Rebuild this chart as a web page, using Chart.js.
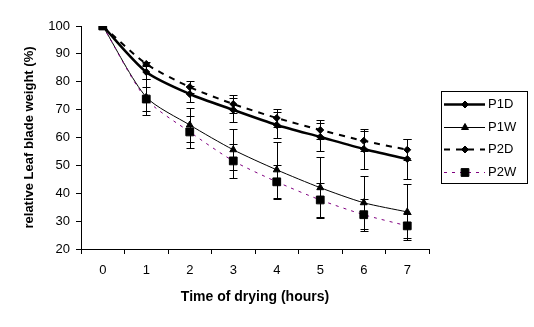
<!DOCTYPE html>
<html>
<head>
<meta charset="utf-8">
<script src="https://cdn.jsdelivr.net/npm/chart.js@4"></script>
<style>
  html, body { margin: 0; padding: 0; background: #fff; }
  #wrap { width: 534px; height: 327px; position: relative; }
</style>
</head>
<body>
<div id="wrap"><canvas id="dryingChart" width="534" height="327"></canvas></div>
<script>
// hours of drying
const hours = ['0', '1', '2', '3', '4', '5', '6', '7'];

// relative leaf blade weight (%)
const p1d = [100, 83.5, 75.6, 69.9, 64.5, 60.2, 55.9, 52.3];
const p1w = [100, 74.5, 64.5, 55.6, 48.4, 42.0, 36.6, 33.3];
const p2d = [100, 86.4, 78.1, 72.0, 67.0, 62.7, 58.8, 55.6];
const p2w = [100, 73.8, 62.0, 51.6, 44.1, 37.6, 32.3, 28.3];

// standard deviations (error bars)
const p1dErr = [0, 2.6, 3.0, 4.2, 4.8, 5.1, 7.3, 7.1];
const p1wErr = [0, 6.5, 6.0, 7.4, 10.0, 10.9, 9.6, 10.0];
const p2dErr = [0, 0.8, 2.3, 3.3, 3.3, 3.4, 3.7, 3.8];
const p2wErr = [0, 4.3, 5.6, 6.0, 6.0, 6.0, 5.8, 4.4];

const yTicks = [20, 30, 40, 50, 60, 70, 80, 90, 100];

const FONT = 'Arial, "Liberation Sans", sans-serif';

// vertical error bars with caps, drawn from the errors array on each dataset
const errorBars = {
    id: 'errorBars',
    afterDatasetsDraw(chart) {
        const ctx = chart.ctx;
        const yScale = chart.scales.y;
        ctx.save();
        ctx.strokeStyle = '#000';
        ctx.lineWidth = 1;
        chart.data.datasets.forEach(function(ds, di) {
            const meta = chart.getDatasetMeta(di);
            ds.errors.forEach(function(err, i) {
                if (!err) return;
                const x = Math.round(meta.data[i].x) + 0.5;
                const top = Math.round(yScale.getPixelForValue(ds.data[i] + err)) + 0.5;
                const bot = Math.round(yScale.getPixelForValue(ds.data[i] - err)) + 0.5;
                ctx.beginPath();
                ctx.moveTo(x, top);
                ctx.lineTo(x, bot);
                ctx.moveTo(x - 4, top);
                ctx.lineTo(x + 4, top);
                ctx.moveTo(x - 4, bot);
                ctx.lineTo(x + 4, bot);
                ctx.stroke();
            });
        });
        ctx.restore();
    }
};

// boxed legend on the right, with line sample and marker for each series
const boxLegend = {
    id: 'boxLegend',
    afterDraw(chart) {
        const ctx = chart.ctx;
        const left = 441, top = 91, width = 86, height = 92;
        ctx.save();
        ctx.strokeStyle = '#000';
        ctx.lineWidth = 1;
        ctx.strokeRect(left + 0.5, top + 0.5, width, height);
        ctx.font = '13px ' + FONT;
        ctx.textBaseline = 'middle';
        ctx.fillStyle = '#000';
        chart.data.datasets.forEach(function(ds, i) {
            const y = Math.round(104 + i * 22.7) + 0.5;
            ctx.save();
            ctx.strokeStyle = ds.borderColor;
            ctx.lineWidth = ds.borderWidth;
            ctx.setLineDash(ds.borderDash || []);
            ctx.beginPath();
            ctx.moveTo(444, y);
            ctx.lineTo(485, y);
            ctx.stroke();
            ctx.restore();
            Chart.helpers.drawPoint(ctx, {
                pointStyle: ds.pointStyle,
                radius: ds.pointRadius,
                borderWidth: 1
            }, 465, y);
            ctx.fillStyle = '#000';
            ctx.fillText(ds.label, 488, y);
        });
        ctx.restore();
    }
};

function series(label, data, errors, style) {
    return Object.assign({
        label: label,
        data: data,
        errors: errors,
        borderColor: '#000',
        pointBackgroundColor: '#000',
        pointBorderColor: '#000',
        backgroundColor: '#000',
        pointBorderWidth: 1,
        pointHoverRadius: 0,
        tension: 0.25,
        fill: false
    }, style);
}

const ctx = document.getElementById('dryingChart').getContext('2d');
const chart = new Chart(ctx, {
    type: 'line',
    data: {
        labels: hours,
        datasets: [
            series('P1D', p1d, p1dErr, { borderWidth: 2.5, pointStyle: 'rectRot', pointRadius: 3.5, order: 2 }),
            series('P1W', p1w, p1wErr, { borderWidth: 1, pointStyle: 'triangle', pointRadius: 4, order: 1 }),
            series('P2D', p2d, p2dErr, { borderWidth: 2, borderDash: [6, 6], pointStyle: 'rectRot', pointRadius: 3.5, order: 3 }),
            series('P2W', p2w, p2wErr, { borderWidth: 1, borderDash: [3, 5], borderColor: '#800080', pointStyle: 'rect', pointRadius: 5.5, order: 0 })
        ]
    },
    options: {
        responsive: false,
        animation: false,
        events: [],
        layout: { padding: { left: 0, top: 26, right: 105, bottom: 0 } },
        plugins: {
            legend: { display: false },
            tooltip: { enabled: false }
        },
        scales: {
            x: {
                type: 'category',
                offset: true,
                grid: { display: true, drawOnChartArea: false, drawTicks: true, tickLength: 5, color: '#000', offset: true },
                border: { display: true, color: '#000', width: 1 },
                ticks: { color: '#000', font: { family: FONT, size: 13 }, padding: 9, maxRotation: 0 },
                title: {
                    display: true,
                    text: 'Time of drying (hours)',
                    color: '#000',
                    font: { family: FONT, size: 14, weight: 'bold' },
                    padding: { top: 0, bottom: 21 }
                },
                afterFit(scale) { scale.height = 78; }
            },
            y: {
                min: 20,
                max: 100,
                afterBuildTicks(scale) { scale.ticks = yTicks.map(function(v) { return { value: v }; }); },
                grid: { display: true, drawOnChartArea: false, drawTicks: true, tickLength: 5, color: '#000' },
                border: { display: true, color: '#000', width: 1 },
                ticks: { color: '#000', font: { family: FONT, size: 13 }, padding: 6 },
                title: {
                    display: true,
                    text: 'relative Leaf blade weight (%)',
                    color: '#000',
                    font: { family: FONT, size: 13, weight: 'bold' },
                    padding: { top: 22, bottom: 0 }
                },
                afterFit(scale) { scale.width = 81; }
            }
        }
    },
    plugins: [errorBars, boxLegend]
});
</script>
</body>
</html>
